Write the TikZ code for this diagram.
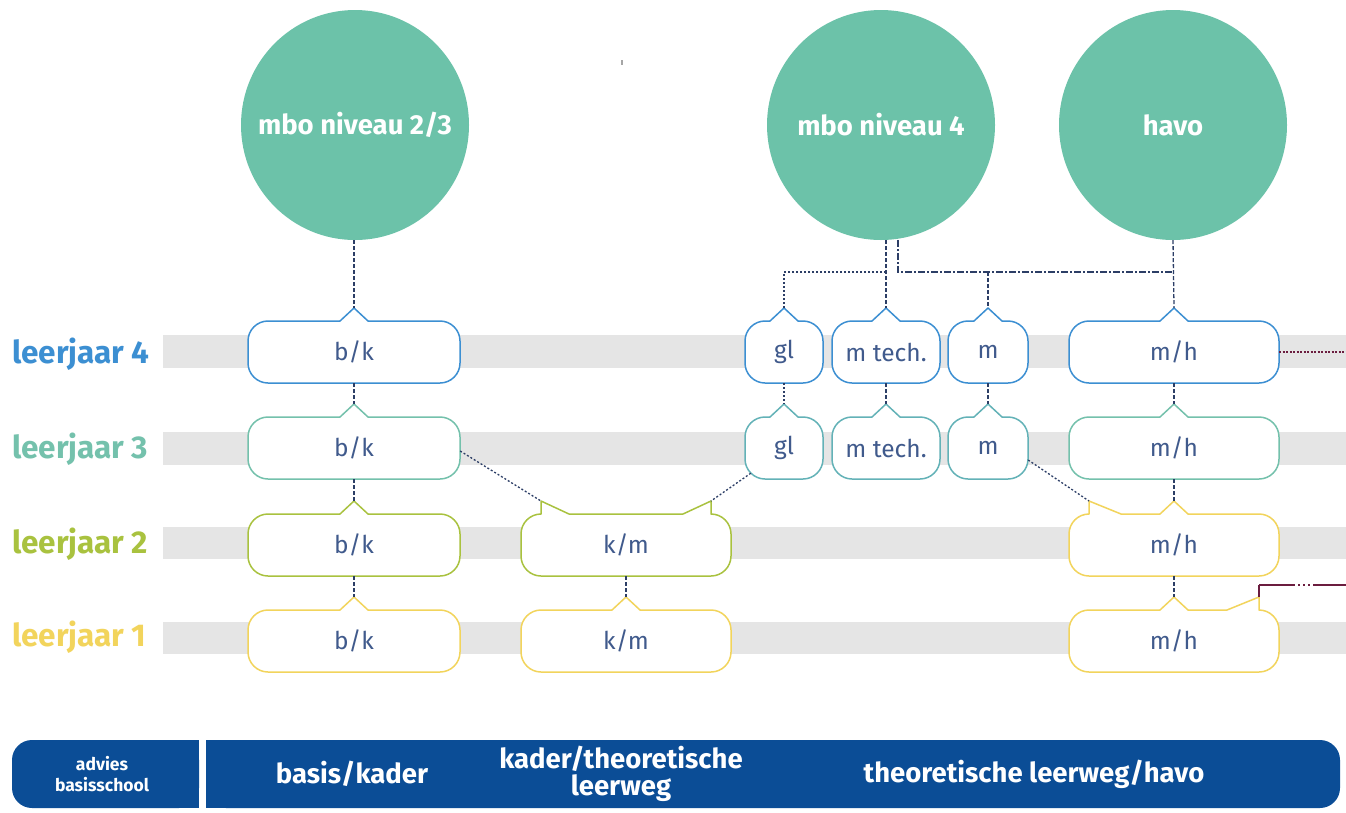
\documentclass[tikz,border=0pt]{standalone}
\usepackage{fontspec}
\setmainfont{Fira Sans}
\usetikzlibrary{shapes.geometric,calc}
\definecolor{cCircle}{HTML}{6CC2A9}
\definecolor{cBlue}{HTML}{3C8FD2}
\definecolor{cTeal}{HTML}{74C1AC}
\definecolor{cOlive}{HTML}{A9C23F}
\definecolor{cYellow}{HTML}{F2D45C}
\definecolor{cBand}{HTML}{E5E5E5}
\definecolor{cNavy}{HTML}{0B4D96}
\definecolor{cLine}{HTML}{2C3E66}
\definecolor{cText}{HTML}{405A8C}
\definecolor{cMaroon}{HTML}{6B1D3F}
\tikzset{
  boxline/.style={line width=1.5pt, fill=white, line join=round},
  boxtext/.style={text=cText, font=\fontsize{24.5}{26}\selectfont, inner sep=0pt, minimum height=62pt},
  conn/.style={draw=cLine, line width=1.3pt, dash pattern=on 4pt off 2pt},
  connDot/.style={draw=cLine, line width=1.3pt, dash pattern=on 2pt off 2pt},
  connDashDot/.style={draw=cLine, line width=1.3pt, dash pattern=on 7pt off 2pt on 2pt off 2pt},
  maroonDot/.style={draw=cMaroon, line width=1.3pt, dash pattern=on 2pt off 1.5pt},
  maroonLine/.style={draw=cMaroon, line width=1.5pt},
  maroonDashDot/.style={draw=cMaroon, line width=1.5pt, dash pattern=on 36pt off 3pt on 2pt off 3pt on 2pt off 3pt on 2pt off 3pt},
  rowlabel/.style={font=\bfseries\fontsize{31.5}{32}\selectfont, anchor=base west, inner sep=0pt},
  circ/.style={ellipse, fill=cCircle, minimum width=228pt, minimum height=230pt, inner sep=0pt},
  circtext/.style={text=white, font=\bfseries\fontsize{27.5}{29}\selectfont, inner sep=0pt},
  bartext/.style={text=white, font=\bfseries\fontsize{27.5}{27}\selectfont, align=center, inner sep=0pt},
  barsmall/.style={text=white, font=\bfseries\fontsize{17.5}{21}\selectfont, align=center, inner sep=0pt},
}
\newcommand\tbox[6]{%
  \pgfmathsetmacro\tbXa{#2-#4/2}%
  \pgfmathsetmacro\tbXb{#2+#4/2}%
  \pgfmathsetmacro\tbYt{#3-31}%
  \pgfmathsetmacro\tbYb{#3+31}%
  \draw[boxline,draw=#5] (#2,\tbYt-13) -- (#2+14,\tbYt) -- (\tbXb-20,\tbYt)
    .. controls (\tbXb-9,\tbYt) and (\tbXb,\tbYt+9) .. (\tbXb,\tbYt+20) -- (\tbXb,\tbYb-20)
    .. controls (\tbXb,\tbYb-9) and (\tbXb-9,\tbYb) .. (\tbXb-20,\tbYb) -- (\tbXa+20,\tbYb)
    .. controls (\tbXa+9,\tbYb) and (\tbXa,\tbYb-9) .. (\tbXa,\tbYb-20) -- (\tbXa,\tbYt+20)
    .. controls (\tbXa,\tbYt+9) and (\tbXa+9,\tbYt) .. (\tbXa+20,\tbYt) -- (#2-14,\tbYt) -- cycle;
  \node[boxtext, minimum width=#4pt] (#1) at (#2,#3) {#6};
  \coordinate (#1-top) at (#2,\tbYt-13);
}
\begin{document}
\begin{tikzpicture}[x=1pt,y=-1pt]
\useasboundingbox[fill=white] (0,0) rectangle (1346,812);
% grey bands
\fill[cBand] (163,335) rectangle (1346,368);
\fill[cBand] (163,432) rectangle (1346,465);
\fill[cBand] (163,527) rectangle (1346,559);
\fill[cBand] (163,622) rectangle (1346,654);
% row labels
\node[rowlabel, text=cBlue] (l4) at (12,363) {leerjaar 4};
\node[rowlabel, text=cTeal] (l3) at (12,458) {leerjaar 3};
\node[rowlabel, text=cOlive] (l2) at (12,553) {leerjaar 2};
\node[rowlabel, text=cYellow] (l1) at (12,646) {leerjaar 1};
% circles
\node[circ] (c23) at (355,125) {};
\node[circtext] (t23) at (c23) {mbo niveau 2/3};
\node[circ] (c4) at (881,125) {};
\node[circtext] (t4) at (c4) {mbo niveau 4};
\node[circ] (ch) at (1173,125) {};
\node[circtext] (th4) at (ch) {havo};
\fill[gray!70] (621,60) rectangle (623,65);
% leerjaar 4
\tbox{bk4}{354}{352}{212}{cBlue}{b/k}
\tbox{gl4}{784}{352}{78}{cBlue}{gl}
\tbox{mt4}{886}{352}{108}{cBlue}{m tech.}
\tbox{m4}{988}{352}{80}{cBlue}{m}
\tbox{mh4}{1174}{352}{210}{cBlue}{m/h}
% leerjaar 3
\tbox{bk3}{354}{448}{212}{cTeal}{b/k}
\tbox{gl3}{784}{448}{78}{cTeal!70!cBlue}{gl}
\tbox{mt3}{886}{448}{108}{cTeal!70!cBlue}{m tech.}
\tbox{m3}{988}{448}{80}{cTeal!70!cBlue}{m}
\tbox{mh3}{1174}{448}{210}{cTeal}{m/h}
% leerjaar 2
\tbox{bk2}{354}{545}{212}{cOlive}{b/k}
\draw[boxline,draw=cOlive] (541,501) -- (569,514) -- (683,514) -- (711,501) -- (711,514)
  .. controls (722,514) and (731,523) .. (731,534) -- (731,556)
  .. controls (731,567) and (722,576) .. (711,576) -- (541,576)
  .. controls (530,576) and (521,567) .. (521,556) -- (521,534)
  .. controls (521,523) and (530,514) .. (541,514) -- cycle;
\node[boxtext, minimum width=210pt] (km2) at (626,545) {k/m};
\coordinate (km2-l) at (541,501);
\coordinate (km2-r) at (711,501);
\draw[boxline,draw=cYellow] (1089,501) -- (1121,514) -- (1160,514) -- (1174,501) -- (1188,514) -- (1259,514)
  .. controls (1270,514) and (1279,523) .. (1279,534) -- (1279,556)
  .. controls (1279,567) and (1270,576) .. (1259,576) -- (1089,576)
  .. controls (1078,576) and (1069,567) .. (1069,556) -- (1069,534)
  .. controls (1069,523) and (1078,514) .. (1089,514) -- cycle;
\node[boxtext, minimum width=210pt] (mh2) at (1174,545) {m/h};
\coordinate (mh2-top) at (1174,501);
\coordinate (mh2-l) at (1089,501);
% leerjaar 1
\tbox{bk1}{354}{641}{212}{cYellow}{b/k}
\tbox{km1}{626}{641}{210}{cYellow}{k/m}
\draw[boxline,draw=cYellow] (1174,597) -- (1188,610) -- (1227,610) -- (1259,597) -- (1259,610)
  .. controls (1270,610) and (1279,619) .. (1279,630) -- (1279,652)
  .. controls (1279,663) and (1270,672) .. (1259,672) -- (1089,672)
  .. controls (1078,672) and (1069,663) .. (1069,652) -- (1069,630)
  .. controls (1069,619) and (1078,610) .. (1089,610) -- (1160,610) -- cycle;
\node[boxtext, minimum width=210pt] (mh1) at (1174,641) {m/h};
\coordinate (mh1-top) at (1174,597);
\coordinate (mh1-r) at (1259,597);
% helper coordinates
\coordinate (jn) at (0,272);
\coordinate (mk) at (0,585);
\coordinate (edgeR) at (1346,0);
% connectors
\draw[conn] (c23.south -| bk4-top) -- (bk4-top);
\draw[conn] (bk4.south) -- (bk3-top);
\draw[conn] (bk3.south) -- (bk2-top);
\draw[conn] (bk2.south) -- (bk1-top);
\draw[conn] (km2.south) -- (km1-top);
\draw[conn] (c4.south -| mt4-top) -- (mt4-top);
\draw[connDot] (mt4-top |- jn) -- (gl4-top |- jn) -- (gl4-top);
\draw[connDashDot] ([xshift=17pt]c4.south) -- ([xshift=17pt]c4.south |- jn) -- (mh4-top |- jn);
\draw[conn] (m4-top |- jn) -- (m4-top);
\draw[conn] (ch.south) -- (mh4-top);
\draw[connDot] (gl4.south) -- (gl3-top);
\draw[conn] (mt4.south) -- (mt3-top);
\draw[conn] (m4.south) -- (m3-top);
\draw[conn] (mh4.south) -- (mh3-top);
\draw[conn] (mh3.south) -- (mh2-top);
\draw[conn] (mh2.south) -- (mh1-top);
\draw[connDot] ([yshift=-3pt]bk3.east) -- (km2-l);
\draw[connDot] ([xshift=6pt,yshift=6pt]gl3.south west) -- (km2-r);
\draw[connDot] ([yshift=-12pt]m3.east) -- (mh2-l);
\draw[maroonDot] (mh4.east) -- (mh4.east -| edgeR);
\draw[maroonLine] (mh1-r) -- (mh1-r |- mk);
\draw[maroonDashDot] (mh1-r |- mk) -- (edgeR |- mk);
% bottom bar
\fill[cNavy, rounded corners=20pt] (12,740) rectangle (199,808);
\fill[cNavy] (160,740) rectangle (199,808);
\fill[cNavy, rounded corners=20pt] (206,740) rectangle (1340,808);
\fill[cNavy] (206,740) rectangle (260,808);
\node[barsmall] (adv) at (102,774) {advies\\basisschool};
\node[bartext] (bk) at (352,774) {basis/kader};
\node[bartext] (kt) at (621,774) {kader/theoretische\\leerweg};
\node[bartext] (th) at (1034,774) {theoretische leerweg/havo};
\end{tikzpicture}
\end{document}
